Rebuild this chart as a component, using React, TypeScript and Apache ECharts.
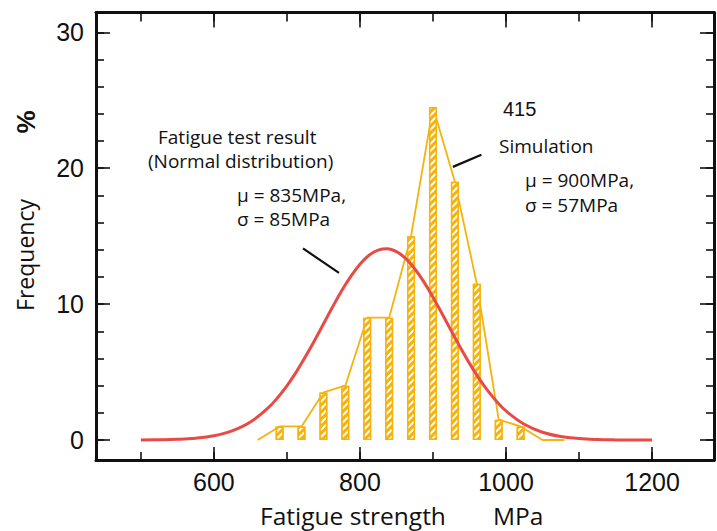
import React, { useEffect, useRef } from "react";
import * as echarts from "echarts";

// Simulation histogram (bins of 30 MPa)
const simStrength = [690, 720, 750, 780, 810, 840, 870, 900, 930, 960, 990, 1020];
const simFrequency = [1, 1, 3.5, 4, 9, 9, 15, 24.5, 19, 11.5, 1.5, 1];
// Simulation frequency polygon (closes to zero at both ends)
const polyStrength = [660, 690, 720, 750, 780, 810, 840, 870, 900, 930, 960, 990, 1020, 1050, 1080];
const polyFrequency = [0, 1, 1, 3.5, 4, 9, 9, 15, 24.5, 19, 11.5, 1.5, 1, 0, 0];
// Fatigue test result curve (normal distribution)
const testStrength = [500, 525, 550, 575, 600, 625, 650, 675, 687.5, 700, 712.5, 725, 737.5, 750, 762.5, 775, 787.5, 800, 812.5, 825, 837.5, 850, 862.5, 875, 887.5, 900, 912.5, 925, 937.5, 950, 962.5, 975, 987.5, 1000, 1025, 1050, 1075, 1100, 1125, 1150, 1175, 1200];
const testFrequency = [0.01, 0.02, 0.05, 0.13, 0.31, 0.67, 1.32, 2.4, 3.13, 3.99, 4.98, 6.1, 7.29, 8.54, 9.79, 10.98, 12.04, 12.94, 13.6, 13.98, 14.07, 13.86, 13.36, 12.6, 11.64, 10.51, 9.29, 8.04, 6.81, 5.64, 4.57, 3.63, 2.82, 2.14, 1.16, 0.57, 0.26, 0.11, 0.04, 0.01, 0.0, 0.0];
// Leader lines (data coordinates)
const leaderTest = [[722, 14.1], [771.3, 12.3]];
const leaderSim = [[927.3, 20.1], [966.3, 21.0]];

const X_MIN = 438.6;
const X_MAX = 1284.8;
const Y_MIN = -1.47;
const Y_MAX = 31.46;

const YELLOW = "#F5B30C";
const RED = "#E84B45";
const INK = "#111111";
const SANS = "'Open Sans', 'Noto Sans', sans-serif";
const HELV = "'Liberation Sans', Arial, sans-serif";

function xAxisDef(position: "bottom" | "top", step: number, len: number, labels: boolean, line: boolean) {
  return {
    type: "value",
    position,
    min: X_MIN,
    max: X_MAX,
    minInterval: step,
    maxInterval: step,
    axisLine: { show: line, onZero: false, lineStyle: { color: INK, width: 3 } },
    axisTick: { show: true, inside: true, length: len, lineStyle: { color: INK, width: 1.6 } },
    axisLabel: {
      show: labels,
      margin: 9,
      fontSize: 25,
      fontFamily: HELV,
      color: INK,
      formatter: (v: number) => (Math.abs(v % 200) < 1e-6 ? String(Math.round(v)) : ""),
    },
    splitLine: { show: false },
  };
}

function yAxisDef(position: "left" | "right", step: number, len: number, labels: boolean, line: boolean) {
  return {
    type: "value",
    position,
    min: Y_MIN,
    max: Y_MAX,
    minInterval: step,
    maxInterval: step,
    axisLine: { show: line, onZero: false, lineStyle: { color: INK, width: 3 } },
    axisTick: { show: true, inside: true, length: len, lineStyle: { color: INK, width: 1.6 } },
    axisLabel: {
      show: labels,
      margin: 12,
      fontSize: 25,
      fontFamily: HELV,
      color: INK,
      formatter: (v: number) => (Math.abs(v % 10) < 1e-6 ? String(Math.round(v)) : ""),
    },
    splitLine: { show: false },
  };
}

function txt(text: string, x: number, y: number, size: number, opts: any = {}) {
  return {
    type: "text",
    x,
    y,
    rotation: opts.rotation || 0,
    style: {
      text,
      fontSize: size,
      fontFamily: opts.family || SANS,
      fontWeight: opts.weight || "normal",
      fill: INK,
      align: opts.align || "left",
      textAlign: opts.align || "left",
      verticalAlign: "middle",
      textVerticalAlign: "middle",
    },
  };
}

export default function App() {
  const ref = useRef<HTMLDivElement>(null);
  useEffect(() => {
    if (!ref.current) return;
    const chart = echarts.init(ref.current, undefined, { renderer: "svg" });
    const barData = simStrength.map((x, i) => [x, simFrequency[i]]);
    const polyData = polyStrength.map((x, i) => [x, polyFrequency[i]]);
    const curveData = testStrength.map((x, i) => [x, testFrequency[i]]);
    chart.setOption({
      animation: false,
      backgroundColor: "#ffffff",
      grid: { left: 96, top: 12.5, right: -8, bottom: 71, containLabel: false },
      xAxis: [
        xAxisDef("bottom", 100, 8, false, true),
        xAxisDef("bottom", 200, 13, true, false),
        xAxisDef("top", 100, 9, false, true),
        xAxisDef("top", 200, 15, false, false),
      ],
      yAxis: [
        yAxisDef("left", 2, 8, false, true),
        yAxisDef("left", 10, 14, true, false),
        yAxisDef("right", 2, 8, false, true),
        yAxisDef("right", 10, 14, false, false),
      ],
      series: [
        {
          type: "line",
          data: polyData,
          xAxisIndex: 0,
          yAxisIndex: 0,
          symbol: "none",
          z: 2,
          lineStyle: { color: YELLOW, width: 1.8 },
          silent: true,
        },
        {
          type: "bar",
          data: barData,
          xAxisIndex: 0,
          yAxisIndex: 0,
          barWidth: 8,
          z: 3,
          itemStyle: {
            color: YELLOW,
            borderColor: YELLOW,
            borderWidth: 1.5,
            decal: {
              symbol: "rect",
              symbolSize: 1,
              color: "#ffffff",
              dashArrayX: [1, 0],
              dashArrayY: [2, 2.6],
              rotation: -Math.PI / 4,
            },
          },
          silent: true,
        },
        {
          type: "line",
          data: curveData,
          xAxisIndex: 0,
          yAxisIndex: 0,
          symbol: "none",
          smooth: 0.4,
          z: 4,
          lineStyle: { color: RED, width: 3 },
          silent: true,
          markLine: {
            silent: true,
            symbol: ["none", "none"],
            label: { show: false },
            lineStyle: { color: INK, width: 2.2, type: "solid" },
            data: [
              [{ coord: leaderTest[0] }, { coord: leaderTest[1] }],
              [{ coord: leaderSim[0] }, { coord: leaderSim[1] }],
            ],
          },
        },
      ],
      graphic: [
        txt("Fatigue test result", 158, 137, 19),
        txt("(Normal distribution)", 148, 161, 19),
        txt("\u03bc = 835MPa,", 237, 195, 19),
        txt("\u03c3 = 85MPa", 237, 219, 19),
        txt("415", 503, 109, 20, { family: HELV }),
        txt("Simulation", 499, 146, 19),
        txt("\u03bc = 900MPa,", 525, 180, 19),
        txt("\u03c3 = 57MPa", 525, 205, 19),
        txt("Fatigue strength", 260, 515, 24.5),
        txt("MPa", 493, 515, 24.5),
        txt("Frequency", 25, 255, 23, { rotation: Math.PI / 2, align: "center" }),
        txt("%", 26, 122, 26, { rotation: Math.PI / 2, align: "center", family: HELV, weight: "bold" }),
      ],
    });
    return () => chart.dispose();
  }, []);
  return <div ref={ref} style={{ width: 717, height: 531, position: "absolute", left: 0, top: 0 }} />;
}
